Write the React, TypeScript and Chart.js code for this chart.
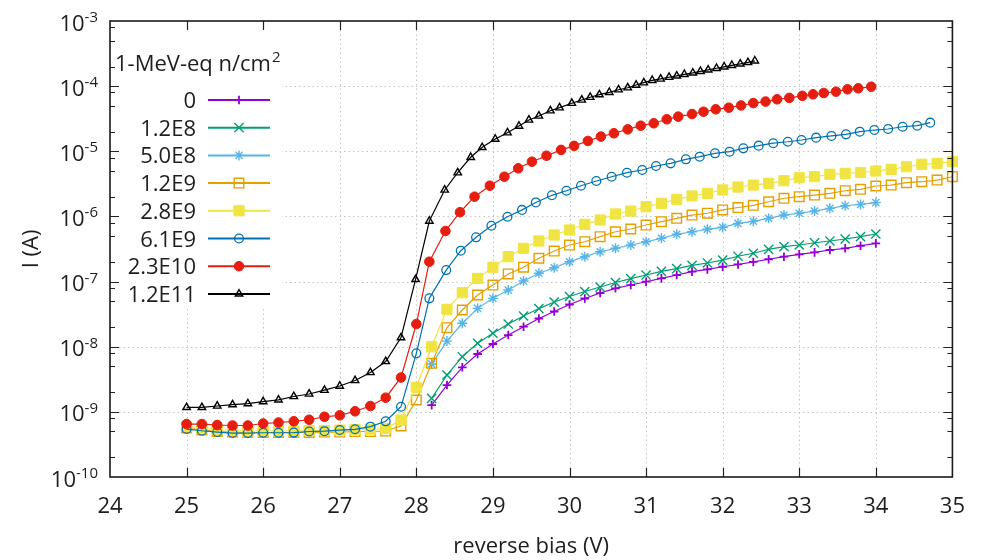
import React, { useEffect, useRef } from 'react';
import { Chart, registerables } from 'chart.js';
import { drawPoint } from 'chart.js/helpers';

Chart.register(...registerables);

const FONT = "'Open Sans', 'DejaVu Sans', sans-serif";
const TEXT = '#1e1e1e';

// ---------- axis / legend text ----------
const xTitle = 'reverse bias (V)';
const yTitle = 'I (A)';
const legendTitle = '1-MeV-eq n/cm';
const legendTitleSup = '2';
const xTickValues = [24, 25, 26, 27, 28, 29, 30, 31, 32, 33, 34, 35];
const yExponents = [-3, -4, -5, -6, -7, -8, -9, -10];
const yMinorMultipliers = [2, 5, 8];

const seriesLabels = ['0', '1.2E8', '5.0E8', '1.2E9', '2.8E9', '6.1E9', '2.3E10', '1.2E11'];

// ---------- data (reverse bias V, current A) ----------
const vLowFluence = [28.2, 28.4, 28.6, 28.8, 29.0, 29.2, 29.4, 29.6, 29.8, 30.0, 30.2, 30.4, 30.6, 30.8, 31.0,
  31.2, 31.4, 31.6, 31.8, 32.0, 32.2, 32.4, 32.6, 32.8, 33.0, 33.2, 33.4, 33.6, 33.8, 34.0];

const iFluence0 = [1.27e-9, 2.58e-9, 4.83e-9, 7.73e-9, 1.10e-8, 1.51e-8, 2.03e-8, 2.71e-8, 3.47e-8, 4.45e-8,
  5.50e-8, 6.67e-8, 7.88e-8, 8.85e-8, 9.95e-8, 1.12e-7, 1.26e-7, 1.42e-7, 1.54e-7, 1.69e-7,
  1.83e-7, 2.00e-7, 2.20e-7, 2.41e-7, 2.62e-7, 2.81e-7, 3.05e-7, 3.24e-7, 3.55e-7, 3.86e-7];

const iFluence1p2e8 = [1.61e-9, 3.68e-9, 7.02e-9, 1.13e-8, 1.61e-8, 2.23e-8, 2.96e-8, 3.85e-8, 4.85e-8, 5.90e-8,
  7.03e-8, 8.24e-8, 9.68e-8, 1.11e-7, 1.26e-7, 1.43e-7, 1.58e-7, 1.77e-7, 1.93e-7, 2.14e-7,
  2.45e-7, 2.72e-7, 3.13e-7, 3.43e-7, 3.64e-7, 3.94e-7, 4.20e-7, 4.50e-7, 4.89e-7, 5.37e-7];

const iFluence5p0e8 = [5.42e-9, 1.22e-8, 2.29e-8, 3.88e-8, 5.53e-8, 7.41e-8, 1.02e-7, 1.34e-7, 1.63e-7, 2.02e-7,
  2.41e-7, 2.87e-7, 3.24e-7, 3.64e-7, 4.09e-7, 4.61e-7, 5.32e-7, 5.82e-7, 6.34e-7, 6.81e-7,
  7.83e-7, 8.41e-7, 9.35e-7, 1.05e-6, 1.12e-6, 1.21e-6, 1.33e-6, 1.46e-6, 1.53e-6, 1.63e-6];

const vFullRange = [25.0, 25.2, 25.4, 25.6, 25.8, 26.0, 26.2, 26.4, 26.6, 26.8, 27.0, 27.2, 27.4, 27.6, 27.8,
  28.0, 28.2, 28.4, 28.6, 28.8, 29.0, 29.2, 29.4, 29.6, 29.8, 30.0, 30.2, 30.4, 30.6, 30.8,
  31.0, 31.2, 31.4, 31.6, 31.8, 32.0, 32.2, 32.4, 32.6, 32.8, 33.0, 33.2, 33.4, 33.6, 33.8,
  34.0, 34.2, 34.4, 34.6, 34.8, 35.0];

const iFluence1p2e9 = [5.65e-10, 5.26e-10, 4.99e-10, 4.90e-10, 4.82e-10, 4.82e-10, 4.82e-10, 4.82e-10, 4.82e-10, 4.90e-10,
  4.90e-10, 4.99e-10, 4.99e-10, 5.08e-10, 6.07e-10, 1.52e-9, 5.56e-9, 1.96e-8, 3.66e-8, 6.22e-8,
  8.85e-8, 1.31e-7, 1.66e-7, 2.28e-7, 2.94e-7, 3.64e-7, 4.09e-7, 4.89e-7, 5.82e-7, 6.41e-7,
  7.38e-7, 8.30e-7, 9.35e-7, 1.05e-6, 1.12e-6, 1.26e-6, 1.37e-6, 1.48e-6, 1.68e-6, 1.90e-6,
  2.01e-6, 2.13e-6, 2.26e-6, 2.48e-6, 2.61e-6, 2.93e-6, 3.03e-6, 3.30e-6, 3.41e-6, 3.62e-6, 4.07e-6];

const iFluence2p8e9 = [5.96e-10, 5.65e-10, 5.36e-10, 5.17e-10, 5.08e-10, 5.08e-10, 5.08e-10, 5.08e-10, 5.17e-10, 5.17e-10,
  5.26e-10, 5.36e-10, 5.36e-10, 5.55e-10, 7.50e-10, 2.38e-9, 1.00e-8, 3.75e-8, 6.75e-8, 1.12e-7,
  1.66e-7, 2.41e-7, 3.24e-7, 4.20e-7, 5.19e-7, 6.19e-7, 7.57e-7, 8.81e-7, 1.09e-6, 1.21e-6,
  1.41e-6, 1.59e-6, 1.83e-6, 2.06e-6, 2.26e-6, 2.55e-6, 2.83e-6, 3.03e-6, 3.22e-6, 3.53e-6,
  3.93e-6, 4.07e-6, 4.44e-6, 4.59e-6, 4.72e-6, 4.98e-6, 5.28e-6, 5.79e-6, 6.31e-6, 6.53e-6, 6.92e-6];

const vFluence6p1e9 = [25.0, 25.2, 25.4, 25.6, 25.8, 26.0, 26.2, 26.4, 26.6, 26.8, 27.0, 27.2, 27.4, 27.6, 27.8,
  28.0, 28.17, 28.39, 28.58, 28.78, 28.98, 29.19, 29.38, 29.56, 29.77, 29.96, 30.15, 30.35, 30.55, 30.75,
  30.95, 31.13, 31.32, 31.52, 31.70, 31.90, 32.09, 32.27, 32.47, 32.66, 32.85, 33.03, 33.22, 33.42, 33.61,
  33.79, 33.98, 34.16, 34.35, 34.54, 34.71];
const iFluence6p1e9 = [5.45e-10, 5.13e-10, 4.90e-10, 4.73e-10, 4.73e-10, 4.78e-10, 4.78e-10, 4.80e-10, 4.99e-10, 5.05e-10,
  5.26e-10, 5.40e-10, 5.92e-10, 7.16e-10, 1.20e-9, 7.92e-9, 5.53e-8, 1.50e-7, 2.98e-7, 4.78e-7,
  7.20e-7, 9.90e-7, 1.26e-6, 1.64e-6, 2.11e-6, 2.48e-6, 2.96e-6, 3.50e-6, 4.07e-6, 4.69e-6,
  5.16e-6, 5.94e-6, 6.53e-6, 7.53e-6, 8.26e-6, 9.31e-6, 9.86e-6, 1.11e-5, 1.22e-5, 1.33e-5,
  1.40e-5, 1.49e-5, 1.62e-5, 1.72e-5, 1.82e-5, 2.00e-5, 2.12e-5, 2.20e-5, 2.38e-5, 2.47e-5, 2.75e-5];

const vFluence2p3e10 = [25.0, 25.2, 25.4, 25.6, 25.8, 26.0, 26.2, 26.4, 26.6, 26.8, 27.0, 27.2, 27.4, 27.6, 27.8,
  28.0, 28.17, 28.38, 28.57, 28.76, 28.96, 29.15, 29.33, 29.51, 29.70, 29.89, 30.06, 30.24, 30.41, 30.58,
  30.76, 30.93, 31.10, 31.27, 31.42, 31.60, 31.75, 31.91, 32.08, 32.24, 32.40, 32.56, 32.71, 32.87, 33.04,
  33.18, 33.32, 33.48, 33.63, 33.77, 33.94];
const iFluence2p3e10 = [6.50e-10, 6.50e-10, 6.28e-10, 6.17e-10, 6.17e-10, 6.62e-10, 6.86e-10, 7.16e-10, 7.57e-10, 8.41e-10,
  8.85e-10, 1.02e-9, 1.23e-9, 1.65e-9, 3.37e-9, 2.23e-8, 2.02e-7, 5.97e-7, 1.16e-6, 2.01e-6,
  2.96e-6, 4.07e-6, 5.48e-6, 6.92e-6, 8.55e-6, 1.05e-5, 1.21e-5, 1.44e-5, 1.68e-5, 1.89e-5,
  2.17e-5, 2.47e-5, 2.69e-5, 3.10e-5, 3.40e-5, 3.73e-5, 4.05e-5, 4.41e-5, 4.67e-5, 5.05e-5,
  5.50e-5, 5.80e-5, 6.28e-5, 6.60e-5, 7.10e-5, 7.50e-5, 7.85e-5, 8.22e-5, 8.94e-5, 9.27e-5, 9.80e-5];

const vFluence1p2e11 = [25.0, 25.2, 25.4, 25.6, 25.8, 26.0, 26.2, 26.4, 26.6, 26.8, 27.0, 27.2, 27.4, 27.6, 27.8,
  27.99, 28.17, 28.37, 28.54, 28.71, 28.86, 29.03, 29.19, 29.34, 29.47, 29.60, 29.75, 29.87, 30.03, 30.16,
  30.27, 30.39, 30.52, 30.64, 30.76, 30.87, 30.97, 31.08, 31.19, 31.30, 31.40, 31.50, 31.61, 31.71, 31.81,
  31.92, 32.02, 32.12, 32.23, 32.33, 32.42];
const iFluence1p2e11 = [1.17e-9, 1.17e-9, 1.23e-9, 1.29e-9, 1.34e-9, 1.44e-9, 1.53e-9, 1.72e-9, 1.88e-9, 2.15e-9,
  2.49e-9, 3.03e-9, 4.02e-9, 5.93e-9, 1.38e-8, 1.08e-7, 8.50e-7, 2.55e-6, 4.69e-6, 8.09e-6,
  1.15e-5, 1.54e-5, 1.93e-5, 2.44e-5, 3.02e-5, 3.48e-5, 4.20e-5, 4.67e-5, 5.46e-5, 6.13e-5,
  6.75e-5, 7.40e-5, 8.04e-5, 8.81e-5, 9.46e-5, 1.04e-4, 1.13e-4, 1.23e-4, 1.29e-4, 1.37e-4,
  1.44e-4, 1.52e-4, 1.60e-4, 1.69e-4, 1.78e-4, 1.88e-4, 1.98e-4, 2.09e-4, 2.20e-4, 2.32e-4, 2.45e-4];

const seriesVoltages = [vLowFluence, vLowFluence, vLowFluence, vFullRange, vFullRange, vFluence6p1e9, vFluence2p3e10, vFluence1p2e11];
const seriesCurrents = [iFluence0, iFluence1p2e8, iFluence5p0e8, iFluence1p2e9, iFluence2p8e9, iFluence6p1e9, iFluence2p3e10, iFluence1p2e11];

// ---------- styles ----------
const seriesColors = ['#9400d3', '#009e73', '#56b4e9', '#e69f00', '#f0e442', '#0072b2', '#e51e10', '#000000'];
const markerStyles = [
  { pointStyle: 'cross', radius: 4.3, borderWidth: 1.8, filled: false },
  { pointStyle: 'crossRot', radius: 6.5, borderWidth: 1.4, filled: false },
  { pointStyle: 'star', radius: 5, borderWidth: 1.4, filled: false },
  { pointStyle: 'rect', radius: 6.8, borderWidth: 1.4, filled: false },
  { pointStyle: 'rect', radius: 7.2, borderWidth: 1, filled: true },
  { pointStyle: 'circle', radius: 4.4, borderWidth: 1.3, filled: false },
  { pointStyle: 'circle', radius: 4.8, borderWidth: 1, filled: true },
  { pointStyle: 'triangle', radius: 4.3, borderWidth: 1.4, filled: false },
];

const framePlugin = {
  id: 'gnuplotFrame',
  beforeDatasetsDraw(chart: any) {
    const { ctx, chartArea: a, scales } = chart;
    const xs = scales.x;
    const ys = scales.y;
    ctx.save();
    ctx.strokeStyle = '#c4c4c4';
    ctx.lineWidth = 1;
    ctx.setLineDash([1.5, 3]);
    ctx.beginPath();
    xTickValues.forEach((v) => {
      if (v <= xs.min || v >= xs.max) return;
      const px = Math.round(xs.getPixelForValue(v)) + 0.5;
      ctx.moveTo(px, a.top);
      ctx.lineTo(px, a.bottom);
    });
    yExponents.forEach((e) => {
      const v = Math.pow(10, e);
      if (v <= ys.min * 1.0001 || v >= ys.max * 0.9999) return;
      const py = Math.round(ys.getPixelForValue(v)) + 0.5;
      ctx.moveTo(a.left, py);
      ctx.lineTo(a.right, py);
    });
    ctx.stroke();
    ctx.setLineDash([]);
    // opaque key box
    ctx.fillStyle = '#ffffff';
    ctx.fillRect(a.left + 1, a.top + 1, 171, 286);
    ctx.restore();
  },
  afterDatasetsDraw(chart: any) {
    const { ctx, chartArea: a, scales } = chart;
    const xs = scales.x;
    const ys = scales.y;
    ctx.save();
    // ticks (inward)
    ctx.strokeStyle = '#222';
    ctx.lineWidth = 1.2;
    ctx.beginPath();
    xTickValues.forEach((v) => {
      if (v <= xs.min || v >= xs.max) return;
      const px = Math.round(xs.getPixelForValue(v)) + 0.5;
      ctx.moveTo(px, a.bottom);
      ctx.lineTo(px, a.bottom - 9);
      ctx.moveTo(px, a.top);
      ctx.lineTo(px, a.top + 9);
    });
    yExponents.forEach((e) => {
      const major = Math.pow(10, e);
      if (major > ys.min * 1.0001 && major < ys.max * 0.9999) {
        const py = Math.round(ys.getPixelForValue(major)) + 0.5;
        ctx.moveTo(a.left, py);
        ctx.lineTo(a.left + 9, py);
        ctx.moveTo(a.right, py);
        ctx.lineTo(a.right - 9, py);
      }
      yMinorMultipliers.forEach((m) => {
        const v = m * major;
        if (v <= ys.min || v >= ys.max) return;
        const py = Math.round(ys.getPixelForValue(v)) + 0.5;
        ctx.moveTo(a.left, py);
        ctx.lineTo(a.left + 5, py);
        ctx.moveTo(a.right, py);
        ctx.lineTo(a.right - 5, py);
      });
    });
    ctx.stroke();
    // border
    ctx.strokeStyle = '#1a1a1a';
    ctx.lineWidth = 1.6;
    ctx.strokeRect(a.left, a.top, a.right - a.left, a.bottom - a.top);

    // y tick labels 10^n
    ctx.fillStyle = TEXT;
    ctx.textBaseline = 'alphabetic';
    yExponents.forEach((e) => {
      const py = ys.getPixelForValue(Math.pow(10, e));
      const sup = String(e);
      ctx.font = `15px ${FONT}`;
      const sw = ctx.measureText(sup).width;
      const right = a.left - 12;
      ctx.textAlign = 'left';
      ctx.fillText(sup, right - sw, py + 1);
      ctx.font = `22px ${FONT}`;
      ctx.textAlign = 'right';
      ctx.fillText('10', right - sw, py + 9.5);
    });

    // key
    const titleX = a.left + 5;
    const titleBase = a.top + 50;
    ctx.textAlign = 'left';
    ctx.font = `22px ${FONT}`;
    ctx.fillText(legendTitle, titleX, titleBase);
    const tw = ctx.measureText(legendTitle).width;
    ctx.font = `15px ${FONT}`;
    ctx.fillText(legendTitleSup, titleX + tw + 1, titleBase - 9);

    seriesLabels.forEach((label, i) => {
      const cy = a.top + 79 + i * 27.7;
      ctx.font = `22px ${FONT}`;
      ctx.textAlign = 'right';
      ctx.fillStyle = TEXT;
      ctx.fillText(label, a.left + 86, cy + 8);
      const color = seriesColors[i];
      const st = markerStyles[i];
      ctx.strokeStyle = color;
      ctx.lineWidth = 2;
      ctx.beginPath();
      ctx.moveTo(a.left + 98, cy);
      ctx.lineTo(a.left + 160, cy);
      ctx.stroke();
      ctx.lineWidth = st.borderWidth;
      ctx.fillStyle = st.filled ? color : 'rgba(0,0,0,0)';
      drawPoint(ctx, { pointStyle: st.pointStyle, rotation: 0, radius: st.radius, borderWidth: st.borderWidth } as any, a.left + 129, cy);
    });
    ctx.restore();
  },
};

export default function App() {
  const canvasRef = useRef<HTMLCanvasElement | null>(null);

  useEffect(() => {
    const canvas = canvasRef.current;
    if (!canvas) return;
    const datasets = seriesLabels.map((label, i) => {
      const st = markerStyles[i];
      const color = seriesColors[i];
      return {
        label,
        data: seriesVoltages[i].map((v, k) => ({ x: v, y: seriesCurrents[i][k] })),
        borderColor: color,
        backgroundColor: color,
        borderWidth: 1.2,
        pointStyle: st.pointStyle,
        pointRadius: st.radius,
        pointBorderWidth: st.borderWidth,
        pointBorderColor: color,
        pointBackgroundColor: st.filled ? color : 'rgba(0,0,0,0)',
        pointHoverRadius: st.radius,
        tension: 0,
        fill: false,
        clip: false,
        order: seriesLabels.length - i,
      };
    });

    const chart = new Chart(canvas, {
      type: 'line',
      data: { datasets } as any,
      options: {
        animation: false,
        responsive: false,
        maintainAspectRatio: false,
        devicePixelRatio: 1,
        events: [],
        layout: { padding: { left: 0, right: 20, top: 21, bottom: 0 } },
        plugins: { legend: { display: false }, tooltip: { enabled: false } },
        scales: {
          x: {
            type: 'linear',
            min: 24,
            max: 35,
            afterFit: (s: any) => { s.height = 83; },
            afterBuildTicks: (s: any) => { s.ticks = xTickValues.map((v) => ({ value: v })); },
            ticks: {
              stepSize: 1,
              padding: 17,
              maxRotation: 0,
              autoSkip: false,
              color: TEXT,
              font: { family: FONT, size: 22 },
            },
            grid: { display: false, drawTicks: false },
            border: { display: false },
            title: {
              display: true,
              text: xTitle,
              color: TEXT,
              font: { family: FONT, size: 22 },
              padding: { top: 0, bottom: 0 },
            },
          },
          y: {
            type: 'logarithmic',
            min: 1e-10,
            max: 1e-3,
            afterFit: (s: any) => { s.width = 110; },
            ticks: { display: false },
            grid: { display: false, drawTicks: false },
            border: { display: false },
            title: {
              display: true,
              text: yTitle,
              color: TEXT,
              font: { family: FONT, size: 22 },
              padding: { top: 19, bottom: 0 },
            },
          },
        },
      } as any,
      plugins: [framePlugin],
    });
    return () => chart.destroy();
  }, []);

  return (
    <div style={{ position: 'fixed', left: 0, top: 0, width: 982, height: 560, background: '#fff' }}>
      <canvas ref={canvasRef} width={982} height={560} style={{ display: 'block', width: 982, height: 560 }} />
    </div>
  );
}
